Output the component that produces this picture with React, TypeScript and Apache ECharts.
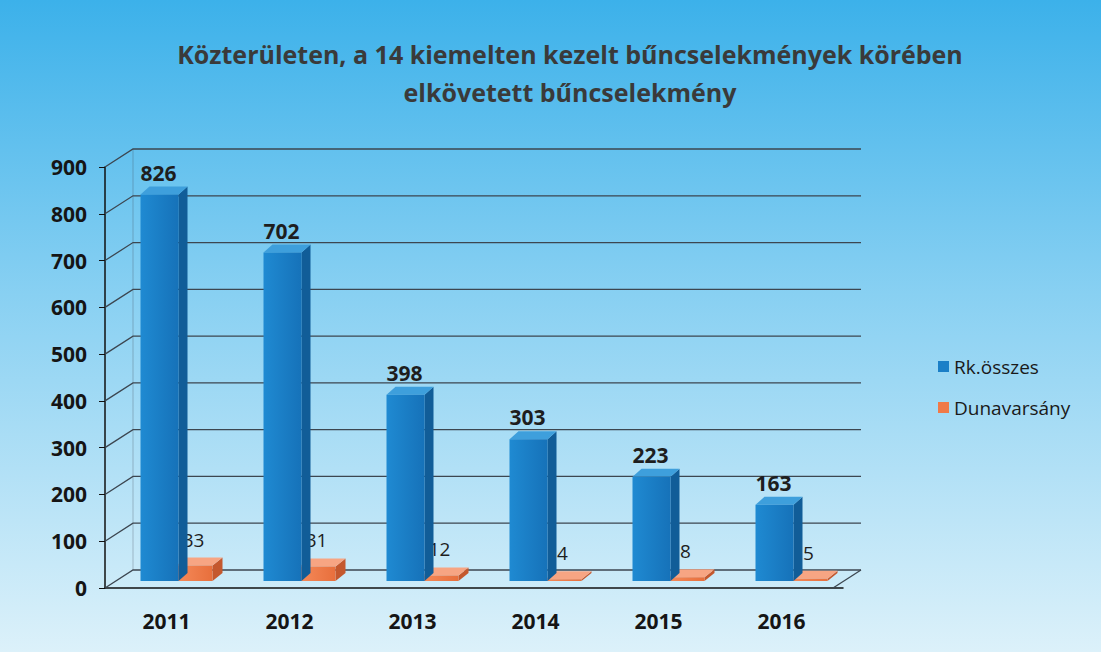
import React, { useEffect, useRef } from "react";
import * as echarts from "echarts";

const titleText = "Közterületen, a 14 kiemelten kezelt bűncselekmények körében\nelkövetett bűncselekmény";
const years = ["2011", "2012", "2013", "2014", "2015", "2016"];
const rkOsszes = [826, 702, 398, 303, 223, 163];
const dunavarsany = [33, 31, 12, 4, 8, 5];
const yTicks = [0, 100, 200, 300, 400, 500, 600, 700, 800, 900];
const seriesNames = ["Rk.összes", "Dunavarsány"];

const FONT = "'Open Sans', 'DejaVu Sans', sans-serif";
const LIFT = 7;

function boxRenderer(
  off0: number,
  off1: number,
  dx: number,
  dy: number,
  front: string,
  frontDark: string,
  side: string,
  top: string,
  labelBold: boolean,
  labelDx: number,
  labelDy: number
) {
  return (params: any, api: any) => {
    const idx = api.value(0);
    const v = api.value(1);
    const base = api.coord([idx, 0]);
    const tp = api.coord([idx, v]);
    const cx = base[0];
    const x0 = cx + off0;
    const x1 = cx + off1;
    const yb = base[1] - LIFT;
    const yt = tp[1] - LIFT;
    return {
      type: "group",
      children: [
        {
          type: "polygon",
          shape: { points: [[x1, yb], [x1 + dx, yb + dy], [x1 + dx, yt + dy], [x1, yt]] },
          style: { fill: side },
        },
        {
          type: "polygon",
          shape: { points: [[x0, yt], [x1, yt], [x1 + dx, yt + dy], [x0 + dx, yt + dy]] },
          style: { fill: top },
        },
        {
          type: "rect",
          shape: { x: x0, y: yt, width: x1 - x0, height: Math.max(yb - yt, 0.5) },
          style: {
            fill: new echarts.graphic.LinearGradient(0, 0, 1, 0, [
              { offset: 0, color: front },
              { offset: 1, color: frontDark },
            ]),
          },
        },
        {
          type: "text",
          style: {
            text: String(v),
            x: cx + labelDx,
            y: yt + labelDy,
            align: "center",
            verticalAlign: "middle",
            fontFamily: FONT,
            fontSize: labelBold ? 21 : 19,
            fontWeight: labelBold ? "bold" : "normal",
            fill: "#1e1e1e",
          },
        },
      ],
    };
  };
}

export default function App() {
  const ref = useRef<HTMLDivElement>(null);
  useEffect(() => {
    if (!ref.current) return;
    const chart = echarts.init(ref.current, undefined, { renderer: "svg" });
    const option: any = {
      animation: false,
      backgroundColor: new echarts.graphic.LinearGradient(0, 0, 0, 1, [
        { offset: 0, color: "#3cb1ea" },
        { offset: 0.45, color: "#88d0f2" },
        { offset: 1, color: "#dcf1fa" },
      ]),
      title: {
        text: titleText,
        left: 565,
        top: 30,
        textAlign: "center",
        textStyle: {
          fontFamily: FONT,
          fontSize: 25,
          fontWeight: "bold",
          color: "#3a3a3a",
          lineHeight: 38,
        },
      },
      legend: {
        data: seriesNames,
        orient: "vertical",
        left: 933,
        top: 352,
        itemGap: 22,
        itemWidth: 11,
        itemHeight: 11,
        icon: "rect",
        textStyle: { fontFamily: FONT, fontSize: 19, color: "#1a1a1a" },
      },
      grid: { left: 105, right: 258, top: 167, bottom: 64 },
      xAxis: {
        type: "category",
        data: years,
        axisLine: { show: true, lineStyle: { color: "#111", width: 1.5 } },
        axisTick: { show: false },
        axisLabel: {
          fontFamily: FONT,
          fontSize: 21,
          fontWeight: "bold",
          color: "#151515",
          margin: 22,
        },
      },
      yAxis: {
        type: "value",
        min: 0,
        max: 900,
        interval: 100,
        axisLine: { show: true, lineStyle: { color: "#111", width: 1.5 } },
        axisTick: { show: true, length: 6, lineStyle: { color: "#111" } },
        splitLine: { show: false },
        axisLabel: {
          fontFamily: FONT,
          fontSize: 21,
          fontWeight: "bold",
          color: "#151515",
          margin: 18,
        },
      },
      series: [
        {
          type: "custom",
          name: "grid3d",
          silent: true,
          z: 1,
          data: yTicks.map((v) => [0, v]),
          renderItem: (params: any, api: any) => {
            const cs = params.coordSys;
            const y = api.coord([0, api.value(1)])[1];
            const isZero = api.value(1) === 0;
            const children: any[] = [
              {
                type: "polyline",
                shape: {
                  points: [
                    [cs.x, y],
                    [cs.x + 28, y - 18],
                    [cs.x + cs.width + 18, y - 18],
                  ],
                },
                style: { stroke: "#3c4650", lineWidth: 1.3, fill: "none" },
              },
            ];
            if (isZero) {
              children.push({
                type: "line",
                shape: { x1: cs.x + cs.width - 10, y1: y, x2: cs.x + cs.width + 18, y2: y - 18 },
                style: { stroke: "#3c4650", lineWidth: 1.3 },
              });
              children.push({
                type: "line",
                shape: { x1: cs.x + 28, y1: y - 18, x2: cs.x + 28, y2: cs.y - 18 },
                style: { stroke: "rgba(60,70,80,0.3)", lineWidth: 1 },
              });
            }
            return { type: "group", children };
          },
        },
        {
          type: "custom",
          name: seriesNames[1],
          z: 2,
          itemStyle: { color: "#f07a48" },
          data: dunavarsany.map((v, i) => [i, v]),
          renderItem: boxRenderer(10, 46, 10, -8, "#f58a5a", "#e86f3c", "#c4582e", "#f7a583", false, 27, -26),
        },
        {
          type: "custom",
          name: seriesNames[0],
          z: 3,
          itemStyle: { color: "#1a7fc7" },
          data: rkOsszes.map((v, i) => [i, v]),
          renderItem: boxRenderer(-26, 12, 9, -8, "#1f8ad2", "#1672b9", "#115d98", "#3e9fdc", true, -8, -22),
        },
      ],
    };
    chart.setOption(option);
    return () => chart.dispose();
  }, []);
  return (
    <div
      ref={ref}
      style={{ position: "absolute", left: 0, top: 0, width: 1101, height: 652 }}
    />
  );
}
